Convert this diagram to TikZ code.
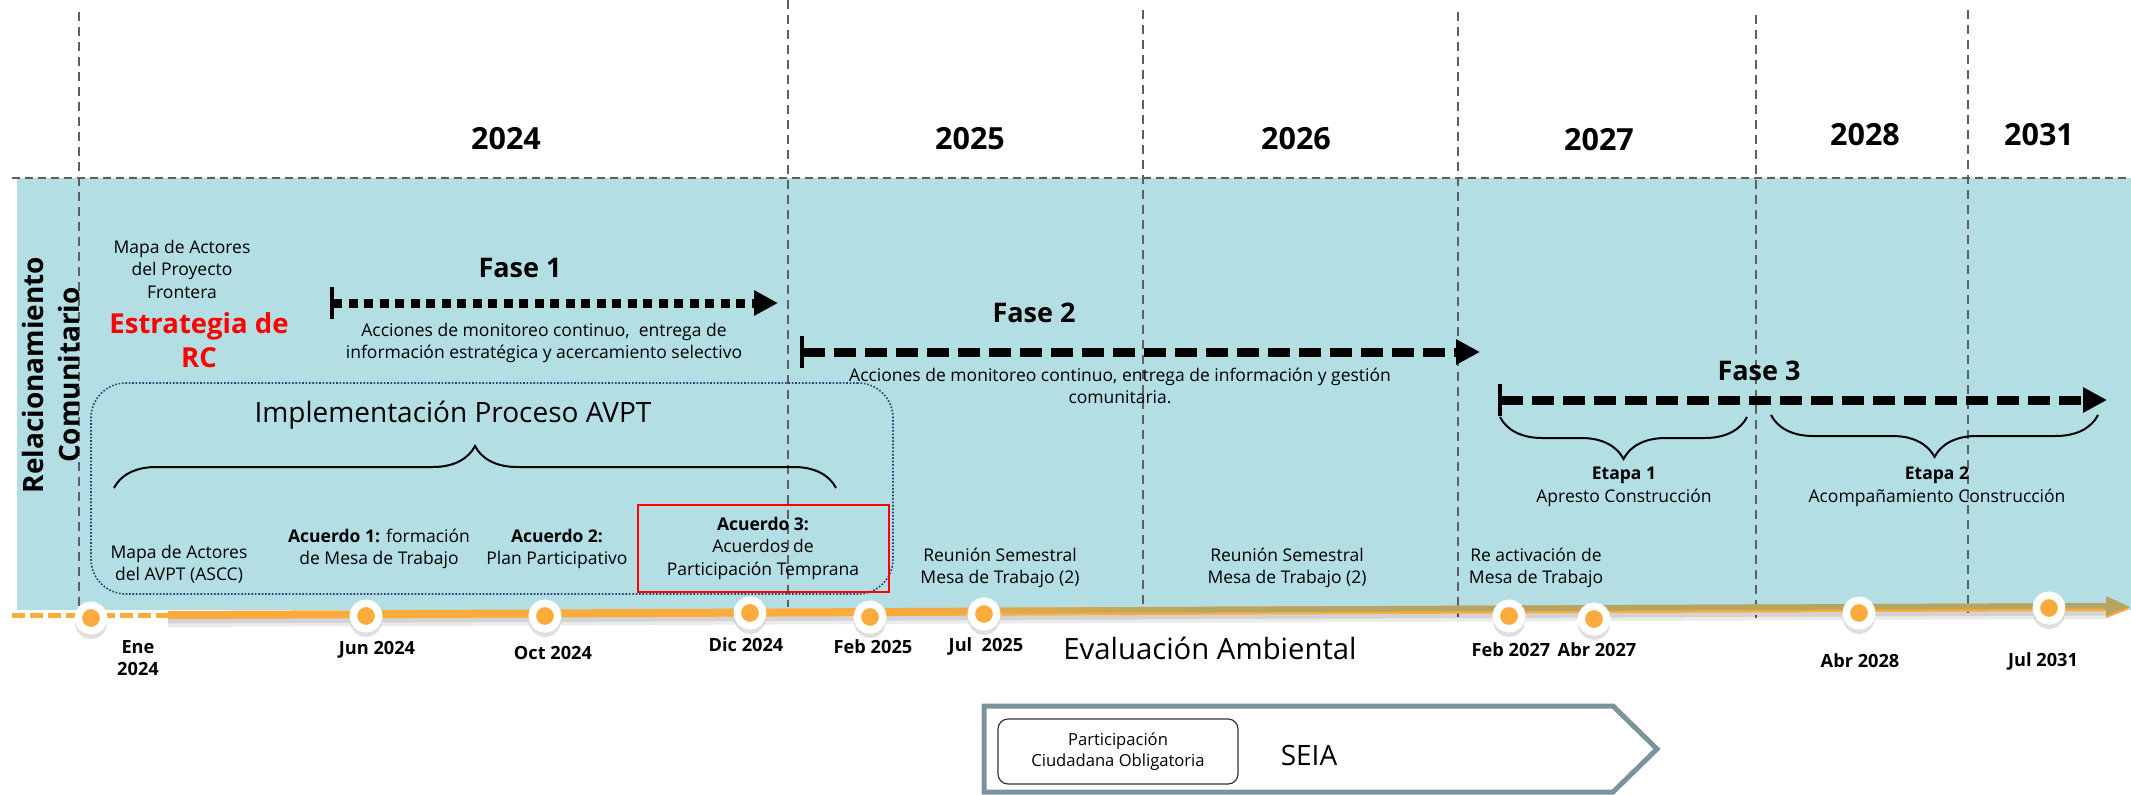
\documentclass[tikz,border=0pt]{standalone}
\usepackage{fontspec}
\setmainfont{Open Sans}
\newfontfamily\sidefont{Open Sans}
\usetikzlibrary{arrows.meta,decorations.pathreplacing,shadows}
\usepackage{xcolor}
\definecolor{rcblue}{RGB}{179,222,228}
\definecolor{hitoorange}{RGB}{251,170,60}
\definecolor{lineolive}{RGB}{180,166,98}
\definecolor{impblue}{RGB}{40,62,112}
\definecolor{seiagray}{RGB}{125,146,157}
\definecolor{vgray}{RGB}{95,95,95}

\begin{document}
\begin{tikzpicture}[x=1pt,y=-1pt,semithick]
  \tikzstyle{yearlbl}=[font=\fontsize{30.5}{36}\selectfont\bfseries]
  \tikzstyle{datelbl}=[font=\fontsize{18.2}{21.5}\selectfont\bfseries,align=center,inner sep=0]
  \tikzstyle{txt}=[font=\fontsize{17.5}{22.5}\selectfont,align=center,inner sep=0]
  \tikzstyle{faselbl}=[font=\fontsize{27}{32}\selectfont\bfseries]
  \tikzstyle{vline}=[draw=vgray,line width=2pt,dash pattern=on 9pt off 6pt]
  \tikzstyle{hito}=[circle,fill=hitoorange,draw=white,line width=7.5pt,minimum size=25.5pt,inner sep=0,
                    drop shadow={shadow xshift=0pt,shadow yshift=-4pt,shadow scale=1.25,opacity=.25}]
  \tikzstyle{fasedots}=[line width=9pt,dash pattern=on 9pt off 6.5pt,
                        {Bar[width=32pt,line width=4pt]}-{Triangle[length=24pt,width=24pt]}]
  \tikzstyle{fasedash}=[line width=9pt,dash pattern=on 22pt off 9pt,
                        {Bar[width=32pt,line width=4pt]}-{Triangle[length=24pt,width=24pt]}]
  \tikzstyle{llave}=[decorate,line width=2pt,decoration={brace,amplitude=42pt}]

  \useasboundingbox (0,0) rectangle (2131,795);

  % fondo y rejilla
  \fill[rcblue] (17,178) rectangle (2131,610);
  \draw[vgray,line width=2.5pt,dash pattern=on 8pt off 5pt] (12,178) -- (2131,178);
  \foreach \x/\a/\b in {79/12/607, 788/0/607, 1143/10/613, 1458/12/617, 1756/15/618, 1968/10/613}
    \draw[vline] (\x,\a) -- (\x,\b);

  % años
  \node[yearlbl] (y24) at (506,139) {2024};
  \node[yearlbl] (y25) at (970,139) {2025};
  \node[yearlbl] (y26) at (1296,139) {2026};
  \node[yearlbl] (y27) at (1599,140) {2027};
  \node[yearlbl] (y28) at (1865,135) {2028};
  \node[yearlbl] (y31) at (2039,135) {2031};

  \node[font=\sidefont\fontsize{28}{36}\selectfont\bfseries,align=center,rotate=90] (rc) at (51,375)
    {Relacionamiento\\Comunitario};

  % estrategia
  \node[txt] (mapa) at (182,269) {Mapa de Actores\\del Proyecto\\Frontera};
  \node[font=\fontsize{27.5}{34}\selectfont\bfseries,text=red,align=center] (estr) at (199,340) {Estrategia de\\RC};

  % fases
  \coordinate (f1a) at (330,303);  \coordinate (f1b) at (778,303);
  \coordinate (f2a) at (800,352);  \coordinate (f2b) at (1480,352);
  \coordinate (f3a) at (1498,400); \coordinate (f3b) at (2107,400);
  \path (f1a) edge[fasedots] (f1b)
        (f2a) edge[fasedash] (f2b)
        (f3a) edge[fasedash] (f3b);
  \node[faselbl] (fase1) at (520,268) {Fase 1};
  \node[faselbl] (fase2) at (1034,313) {Fase 2};
  \node[faselbl] (fase3) at (1759,371) {Fase 3};
  \node[txt] (acc1) at (544,343) {Acciones de monitoreo continuo,\ \ entrega de\\información estratégica y acercamiento selectivo};
  \node[txt] (acc2) at (1120,386) {Acciones de monitoreo continuo, entrega de información y gestión\\comunitaria.};

  % etapas
  \coordinate (e1a) at (1747,417); \coordinate (e1b) at (1500,417);
  \coordinate (e2a) at (2098,415); \coordinate (e2b) at (1771,415);
  \draw[llave] (e1a) -- (e1b);
  \draw[llave] (e2a) -- (e2b);
  \node[txt] (etapa1) at (1624,487) {\textbf{Etapa 1}\\Apresto Construcción};
  \node[txt] (etapa2) at (1937,487) {\textbf{Etapa 2}\\Acompañamiento Construcción};

  % proceso AVPT
  \node[draw=impblue,line width=1.6pt,dash pattern=on 1.6pt off 1.8pt,rounded corners=35pt,
        minimum width=802pt,minimum height=211pt] (imp) at (492,488.5) {};
  \node[font=\fontsize{28}{32}\selectfont] (implbl) at (453,415) {Implementación Proceso AVPT};
  \coordinate (bl) at (114,488); \coordinate (br) at (836,488);
  \draw[llave] (bl) -- (br);
  \node[txt] (mapa2) at (179,564) {Mapa de Actores\\del AVPT (ASCC)};
  \node[txt] (acu1) at (379,549) {\textbf{Acuerdo 1:} formación\\de Mesa de Trabajo};
  \node[txt] (acu2) at (557,549) {\textbf{Acuerdo 2:}\\Plan Participativo};
  \node[txt,draw=red,line width=2pt,minimum width=251pt,minimum height=87pt] (acu3) at (763,548)
    {\textbf{Acuerdo 3:}\\Acuerdos de\\Participación Temprana};
  \node[txt] (reu1) at (1000,568) {Reunión Semestral\\Mesa de Trabajo (2)};
  \node[txt] (reu2) at (1287,568) {Reunión Semestral\\Mesa de Trabajo (2)};
  \node[txt] (react) at (1536,568) {Re activación de\\Mesa de Trabajo};

  % linea de tiempo
  \coordinate (t0) at (12,615);
  \coordinate (t1) at (168,615);
  \coordinate (t2) at (2106,607);
  \coordinate (tip) at (2130,607);
  \draw[black,opacity=.08,line width=14pt] ([yshift=-5pt]t1) -- ([yshift=-5pt]t2);
  \draw[black,opacity=.10,line width=7pt] ([yshift=-5pt]t1) -- ([yshift=-5pt]t2);
  \draw[hitoorange,line width=5pt,dash pattern=on 13pt off 5pt] (t0) -- (t1);
  \draw[hitoorange,line width=8pt] (t1) -- (t2);
  \shade[left color=hitoorange,right color=lineolive] (880,608.1) -- (1200,606.8) -- (1200,612.3) -- (880,613.6) -- cycle;
  \fill[lineolive] (1200,606.8) -- (2106,603) -- (2106,608.5) -- (1200,612.3) -- cycle;
  \fill[lineolive] (2106,596) -- (tip) -- (2106,618) -- cycle;
  \draw[hitoorange,line width=2pt] (2106,617) -- (2128,608.5);

  \foreach \n/\x/\y in {ene/91/618, jun/366/616, oct/545/616, dic/750/613, febA/870/617,
                        julA/984/614, febB/1509/616, abrA/1594/619, abrB/1859/613, julB/2049/608}
    \node[hito] (h\n) at (\x,\y) {};

  \node[datelbl] (dene) at (138,658) {Ene\\2024};
  \node[datelbl] (djun) at (377,650) {Jun 2024};
  \node[datelbl] (doct) at (553,653) {Oct 2024};
  \node[datelbl] (ddic) at (746,645) {Dic 2024};
  \node[datelbl] (dfebA) at (873,647) {Feb 2025};
  \node[datelbl] (djulA) at (986,646) {Jul\ \ 2025};
  \node[font=\fontsize{29.3}{34}\selectfont] (eval) at (1210,648) {Evaluación Ambiental};
  \node[datelbl] (dfebB) at (1511,650) {Feb 2027};
  \node[datelbl] (dabrA) at (1597,650) {Abr 2027};
  \node[datelbl] (dabrB) at (1860,661) {Abr 2028};
  \node[datelbl] (djulB) at (2043,661) {Jul 2031};

  % SEIA
  \draw[seiagray,line width=5pt,line join=miter] (984,706) -- (1613,706) -- (1657,749) -- (1613,792) -- (984,792) -- cycle;
  \node[font=\fontsize{16.6}{21}\selectfont,align=center,draw=black!80,line width=1.2pt,rounded corners=10pt,
        minimum width=240pt,minimum height=65pt] (pco) at (1118,751.5) {Participación\\Ciudadana Obligatoria};
  \node[font=\fontsize{28}{34}\selectfont] (seia) at (1309,755) {SEIA};
\end{tikzpicture}
\end{document}
